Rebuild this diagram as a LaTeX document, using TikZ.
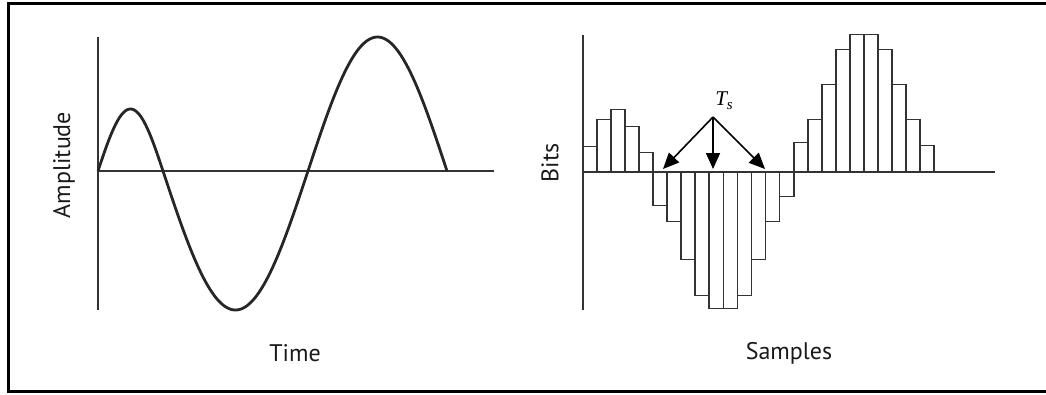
\documentclass[tikz,border=0pt]{standalone}
\usepackage{fontspec}
\setmainfont{PT Sans}
\newfontfamily\tsfont{Liberation Serif}
\usetikzlibrary{arrows.meta}
\begin{document}
\begin{tikzpicture}[x=1pt,y=-1pt,
  axisline/.style={line width=2pt,draw=black!80},
  wave/.style={line width=2.8pt,draw=black!85,line join=round},
  bar/.style={line width=1.8pt,draw=black!80},
  lbl/.style={font=\fontsize{24}{26}\selectfont,text=black!90,inner sep=0pt},
  tsarrow/.style={line width=1.6pt,-{Triangle[length=16pt,width=14pt]}}]
\useasboundingbox (0,0) rectangle (1046,394);
% frame
\draw[line width=3pt] (1060,3) -- (8,3) -- (8,391) -- (1060,391);
% left plot
\draw[axisline] (98,37) -- (98,310);
\draw[axisline] (98,171) -- (494,171);
\draw[wave] plot[domain=0:1,samples=50] ({98+65*\x},{171-62*sin(180*\x)})
  -- plot[domain=0:1,samples=80] ({163+145*\x},{171+139*sin(180*\x)})
  -- plot[domain=0:1,samples=80] ({308+139*\x},{171-134*sin(180*\x)});
\node[lbl,rotate=90] (amp) at (64,165) {Amplitude};
\node[lbl] (time) at (295,353) {Time};
% right plot
\foreach \h [count=\i from 0] in {25,52,62,45,19,-34,-50,-88,-124,-137,-137,-124,-88,-50,-25,29,52,87,122,137,137,122,87,52,26}{
  \draw[bar] ({583+14.04*\i},171.5) rectangle ({583+14.04*(\i+1)},{171.5-\h});
}
\draw[axisline] (583,35) -- (583,310);
\draw[axisline] (583,171.5) -- (995,171.5);
\node[lbl,rotate=90] (bits) at (550,163) {Bits};
\node[lbl] (samp) at (789,353) {Samples};
% Ts arrows
\node[inner sep=0pt,font=\tsfont\itshape\fontsize{21}{23}\selectfont] (ts) at (724,101) {T\raisebox{-4pt}{\fontsize{15}{15}\selectfont s}};
\coordinate (o) at (713,117);
\coordinate (tl) at (663,169);
\coordinate (tc) at (713,169);
\coordinate (tr) at (765,169);
\draw[tsarrow] (o) -- (tl);
\draw[tsarrow] (o) -- (tc);
\draw[tsarrow] (o) -- (tr);
\end{tikzpicture}
\end{document}
